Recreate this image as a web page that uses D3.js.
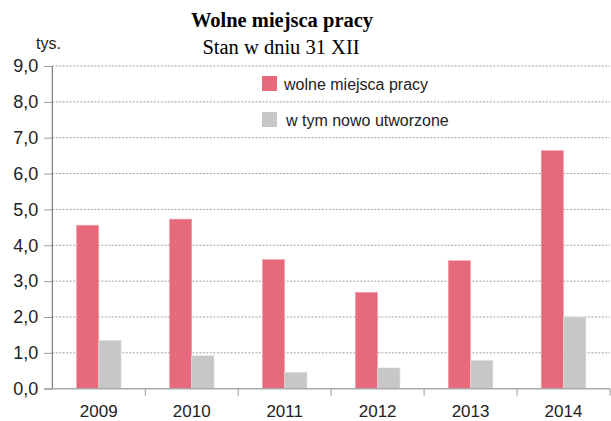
<!DOCTYPE html>
<html><head><meta charset="utf-8">
<script src="https://cdn.jsdelivr.net/npm/d3@7"></script>
<style>body{margin:0;background:#fff}svg{display:block}</style>
</head><body><div id="chart"></div>
<script>
const years = ["2009","2010","2011","2012","2013","2014"];
const wolne = [4.56, 4.73, 3.60, 2.69, 3.57, 6.64];
const nowe = [1.35, 0.92, 0.46, 0.58, 0.79, 2.00];
const seriesNames = ["wolne miejsca pracy", "w tym nowo utworzone"];
const yTicks = [0,1,2,3,4,5,6,7,8,9];

const W = 611, H = 421;
const colors = ["#e66a7c", "#c6c7c6"];
const svg = d3.select("#chart").append("svg").attr("width", W).attr("height", H);

const x0 = 52.3, x1 = 610, yTop = 66, yBot = 388.7;
const x = d3.scaleBand().domain(years).range([x0, x1]).paddingInner(0).paddingOuter(0);
const y = d3.scaleLinear().domain([0, 9]).range([yBot, yTop]);

// grid
svg.append("g").selectAll("line").data(yTicks.filter(d => d > 0)).join("line")
  .attr("x1", x0).attr("x2", x1).attr("y1", d => y(d)).attr("y2", d => y(d))
  .attr("stroke", "#888").attr("stroke-width", 0.8).attr("stroke-dasharray", "2,1.5");

// bars
const inner = d3.scaleBand().domain([0,1]).range([0, x.bandwidth()]).paddingOuter(1.08).paddingInner(0);
const data = years.map((yr, i) => ({yr, vals: [wolne[i], nowe[i]]}));
const g = svg.append("g");
data.forEach(d => {
  d.vals.forEach((v, k) => {
    g.append("rect")
      .attr("x", x(d.yr) + inner(k))
      .attr("width", inner.bandwidth())
      .attr("y", y(v)).attr("height", yBot - y(v))
      .attr("fill", colors[k]).attr("stroke", k === 0 ? "#f3a9b4" : "#e2e2e2").attr("stroke-width", 0.6);
  });
});

// y axis
const yAxis = d3.axisLeft(y).tickValues(yTicks).tickSize(8).tickPadding(6)
  .tickFormat(d => d3.format(".1f")(d).replace(".", ","));
const ya = svg.append("g").attr("transform", `translate(${x0},0)`).call(yAxis);
ya.select(".domain").attr("stroke", "#666").attr("d", `M0,${yTop}V${yBot}`);
ya.selectAll(".tick line").attr("stroke", "#999");
ya.selectAll("text").attr("font-family", "Liberation Sans, Arial, sans-serif").attr("font-size", 18).attr("fill", "#222");

// baseline
svg.append("line").attr("x1", x0 - 8).attr("x2", x1).attr("y1", yBot).attr("y2", yBot)
  .attr("stroke", "#aaa").attr("stroke-width", 1.5);

// x axis
const xAxis = d3.axisBottom(x).tickSize(0).tickPadding(16);
const xa = svg.append("g").attr("transform", `translate(0,${yBot})`).call(xAxis);
xa.select(".domain").remove();
xa.selectAll("text").attr("font-family", "Liberation Sans, Arial, sans-serif").attr("font-size", 17).attr("fill", "#222");
// category separators
svg.append("g").selectAll("line").data(years).join("line")
  .attr("x1", d => x(d) + x.bandwidth()).attr("x2", d => x(d) + x.bandwidth())
  .attr("y1", yBot).attr("y2", yBot + 7).attr("stroke", "#999");

// unit label
svg.append("text").attr("x", 36).attr("y", 49).text("tys.")
  .attr("font-family", "Liberation Sans, Arial, sans-serif").attr("font-size", 16).attr("fill", "#222");

// title
svg.append("text").attr("x", 282).attr("y", 27).attr("text-anchor", "middle").text("Wolne miejsca pracy")
  .attr("font-family", "Liberation Serif, Times New Roman, serif").attr("font-weight", "bold").attr("font-size", 20.5).attr("fill", "#000");
svg.append("text").attr("x", 281).attr("y", 54).attr("text-anchor", "middle").text("Stan w dniu 31 XII")
  .attr("font-family", "Liberation Serif, Times New Roman, serif").attr("font-size", 20.5).attr("fill", "#000");

// legend
const leg = svg.append("g");
seriesNames.forEach((s, k) => {
  const ly = 76 + k * 36;
  leg.append("rect").attr("x", 262).attr("y", ly).attr("width", 15).attr("height", 15).attr("fill", colors[k]);
  leg.append("text").attr("x", 284 + k * 2).attr("y", ly + 14).text(s)
    .attr("font-family", "Liberation Sans, Arial, sans-serif").attr("font-size", 16).attr("fill", "#222");
});
</script></body></html>
